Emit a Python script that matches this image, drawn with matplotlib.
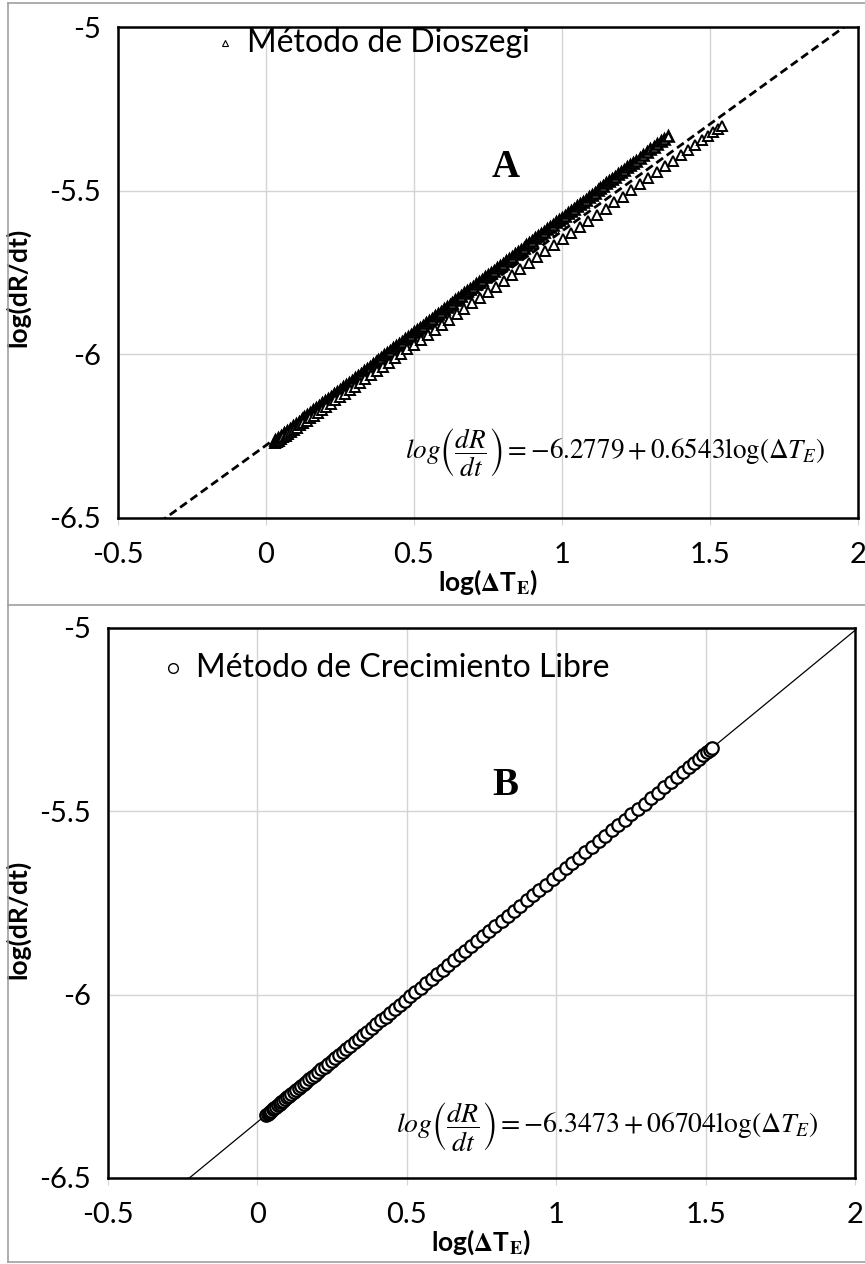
import numpy as np
import matplotlib.pyplot as plt
from matplotlib.lines import Line2D

plt.rcParams['font.family'] = ['Lato', 'DejaVu Sans']
plt.rcParams['mathtext.fontset'] = 'stix'

#------------------------- data -------------------------
# panel A, Dioszegi method: dense run (upper band) and the run that bends below the fit
dio1_x = [0.03, 0.04, 0.05, 0.06, 0.07, 0.08, 0.09, 0.10, 0.11, 0.12,
          0.13, 0.14, 0.15, 0.16, 0.17, 0.18, 0.19, 0.20, 0.21, 0.22,
          0.23, 0.24, 0.25, 0.26, 0.27, 0.28, 0.29, 0.30, 0.31, 0.32,
          0.33, 0.34, 0.35, 0.36, 0.37, 0.38, 0.39, 0.40, 0.41, 0.42,
          0.43, 0.44, 0.45, 0.46, 0.47, 0.48, 0.49, 0.50, 0.51, 0.52,
          0.53, 0.54, 0.55, 0.56, 0.57, 0.58, 0.59, 0.60, 0.61, 0.62,
          0.63, 0.64, 0.65, 0.66, 0.67, 0.68, 0.69, 0.70, 0.71, 0.72,
          0.73, 0.74, 0.75, 0.76, 0.77, 0.78, 0.79, 0.80, 0.81, 0.82,
          0.83, 0.84, 0.85, 0.86, 0.87, 0.88, 0.89, 0.90, 0.91, 0.92,
          0.93, 0.94, 0.95, 0.96, 0.97, 0.98, 0.99, 1.00, 1.01, 1.02,
          1.03, 1.04, 1.05, 1.06, 1.07, 1.08, 1.09, 1.10, 1.11, 1.12,
          1.13, 1.14, 1.15, 1.16, 1.17, 1.18, 1.19, 1.20, 1.21, 1.22,
          1.23, 1.24, 1.25, 1.262, 1.274, 1.286, 1.298, 1.310, 1.322, 1.334, 1.346, 1.358]
dio1_y = [-6.262, -6.255, -6.248, -6.241, -6.234, -6.227, -6.220, -6.213, -6.206, -6.199,
          -6.192, -6.185, -6.178, -6.171, -6.164, -6.157, -6.150, -6.143, -6.136, -6.129,
          -6.122, -6.115, -6.108, -6.101, -6.094, -6.087, -6.080, -6.073, -6.066, -6.059,
          -6.052, -6.045, -6.038, -6.031, -6.024, -6.017, -6.010, -6.003, -5.996, -5.989,
          -5.982, -5.975, -5.968, -5.961, -5.954, -5.947, -5.940, -5.933, -5.926, -5.919,
          -5.912, -5.905, -5.898, -5.891, -5.884, -5.877, -5.870, -5.863, -5.856, -5.849,
          -5.842, -5.835, -5.828, -5.821, -5.814, -5.807, -5.800, -5.793, -5.786, -5.779,
          -5.772, -5.765, -5.758, -5.751, -5.744, -5.737, -5.730, -5.723, -5.716, -5.709,
          -5.702, -5.695, -5.688, -5.681, -5.674, -5.667, -5.660, -5.653, -5.646, -5.639,
          -5.632, -5.625, -5.618, -5.611, -5.604, -5.597, -5.590, -5.583, -5.576, -5.569,
          -5.562, -5.555, -5.548, -5.541, -5.534, -5.527, -5.520, -5.513, -5.506, -5.499,
          -5.492, -5.485, -5.478, -5.471, -5.464, -5.457, -5.450, -5.443, -5.436, -5.429,
          -5.422, -5.415, -5.408, -5.400, -5.391, -5.383, -5.374, -5.366, -5.358, -5.349, -5.341, -5.332]

dio2_x = [0.030, 0.036, 0.043, 0.050, 0.058, 0.066, 0.075, 0.084, 0.094, 0.104, 0.115, 0.126, 0.138,
          0.150, 0.163, 0.176, 0.190, 0.204, 0.219, 0.234, 0.250, 0.266, 0.283, 0.300, 0.318, 0.336,
          0.355, 0.374, 0.394, 0.414, 0.435, 0.456, 0.478, 0.500, 0.523, 0.546, 0.570, 0.594, 0.619,
          0.644, 0.670, 0.696, 0.722, 0.749, 0.776, 0.803, 0.831, 0.859, 0.887, 0.915, 0.944, 0.973,
          1.002, 1.031, 1.060, 1.089, 1.118, 1.147, 1.176, 1.205, 1.234, 1.263, 1.292, 1.320, 1.348,
          1.375, 1.401, 1.426, 1.450, 1.472, 1.492, 1.510, 1.526, 1.540]
dio2_y = [-6.272, -6.268, -6.264, -6.259, -6.254, -6.249, -6.243, -6.237, -6.231, -6.224, -6.217, -6.210, -6.203,
          -6.195, -6.187, -6.178, -6.169, -6.160, -6.151, -6.141, -6.131, -6.120, -6.110, -6.099, -6.087, -6.076,
          -6.063, -6.051, -6.038, -6.025, -6.012, -5.998, -5.984, -5.970, -5.955, -5.941, -5.925, -5.910, -5.894,
          -5.878, -5.861, -5.844, -5.828, -5.810, -5.793, -5.776, -5.758, -5.740, -5.722, -5.704, -5.685, -5.667,
          -5.648, -5.629, -5.611, -5.592, -5.574, -5.555, -5.536, -5.518, -5.499, -5.480, -5.462, -5.444, -5.426,
          -5.409, -5.392, -5.376, -5.360, -5.346, -5.333, -5.322, -5.311, -5.303]

# panel B, free growth method (circles)
cre_x = [0.030, 0.034, 0.038, 0.042, 0.047, 0.052, 0.057, 0.062, 0.068, 0.074, 0.080, 0.086, 0.093, 0.100,
         0.107, 0.114, 0.122, 0.130, 0.138, 0.146, 0.155, 0.164, 0.173, 0.183, 0.193, 0.203, 0.214, 0.225,
         0.236, 0.248, 0.260, 0.272, 0.285, 0.298, 0.311, 0.325, 0.339, 0.353, 0.368, 0.383, 0.398, 0.413,
         0.429, 0.445, 0.461, 0.478, 0.495, 0.512, 0.529, 0.547, 0.565, 0.583, 0.601, 0.620, 0.639, 0.658,
         0.677, 0.696, 0.716, 0.736, 0.756, 0.776, 0.796, 0.817, 0.838, 0.859, 0.880, 0.901, 0.922, 0.944,
         0.966, 0.988, 1.010, 1.032, 1.054, 1.076, 1.098, 1.120, 1.142, 1.164, 1.186, 1.208, 1.230, 1.252,
         1.274, 1.296, 1.318, 1.340, 1.362, 1.384, 1.405, 1.425, 1.444, 1.462, 1.478, 1.492, 1.504, 1.514, 1.522]
cre_y = [-6.327, -6.325, -6.322, -6.319, -6.316, -6.312, -6.309, -6.306, -6.302, -6.298, -6.294, -6.290, -6.285, -6.280,
         -6.276, -6.271, -6.266, -6.260, -6.255, -6.249, -6.243, -6.237, -6.231, -6.225, -6.218, -6.211, -6.204, -6.197,
         -6.189, -6.181, -6.173, -6.165, -6.156, -6.148, -6.139, -6.129, -6.120, -6.111, -6.101, -6.091, -6.081, -6.070,
         -6.060, -6.049, -6.038, -6.027, -6.016, -6.004, -5.993, -5.981, -5.969, -5.957, -5.944, -5.932, -5.919, -5.906,
         -5.893, -5.881, -5.867, -5.854, -5.841, -5.827, -5.814, -5.800, -5.786, -5.771, -5.757, -5.743, -5.729, -5.714,
         -5.700, -5.685, -5.670, -5.655, -5.641, -5.626, -5.611, -5.597, -5.582, -5.567, -5.552, -5.538, -5.523, -5.508,
         -5.493, -5.479, -5.464, -5.449, -5.434, -5.420, -5.405, -5.392, -5.379, -5.367, -5.356, -5.347, -5.339, -5.332, -5.327]

# fitted lines: intercept, slope
fit_A = (-6.2779, 0.6543)
fit_B = (-6.3473, 0.6704)

xticks = [-0.5, 0, 0.5, 1, 1.5, 2]
xticklabels = ['-0.5', '0', '0.5', '1', '1.5', '2']
yticks = [-6.5, -6, -5.5, -5]
yticklabels = ['-6.5', '-6', '-5.5', '-5']

#------------------------- figure -------------------------
W, H = 865, 1264
fig = plt.figure(figsize=(W / 100, H / 100), dpi=100)

def box(l, t, r, b):
    return [l / W, 1 - b / H, (r - l) / W, (b - t) / H]

axA = fig.add_axes(box(118, 27, 858, 518))
axB = fig.add_axes(box(108, 628, 855, 1178))

def style(ax, ylab_x):
    ax.set_xlim(-0.5, 2)
    ax.set_ylim(-6.5, -5)
    ax.set_xticks(xticks)
    ax.set_xticklabels(xticklabels)
    ax.set_yticks(yticks)
    ax.set_yticklabels(yticklabels)
    ax.grid(True, color='#d4d4d4', lw=1.0)
    ax.set_axisbelow(True)
    for s in ax.spines.values():
        s.set_linewidth(1.8)
        s.set_color('black')
    ax.tick_params(axis='x', length=5, color='#d4d4d4', pad=12, labelsize=21)
    ax.tick_params(axis='y', length=0, pad=12, labelsize=21)
    ax.set_xlabel(r'log($\mathbf{\Delta}$T$_\mathbf{E}$)', fontsize=19, fontweight='bold', labelpad=0)
    ax.set_ylabel('log(dR/dt)', fontsize=19, fontweight='bold')
    ax.yaxis.set_label_coords(ylab_x, 0.47)

style(axA, (30 - 118) / 740)
style(axB, (30 - 108) / 747)

xl = np.array([-0.5, 2.0])

# panel A
axA.plot(xl, fit_A[0] + fit_A[1] * xl, ls='--', color='black', lw=2.0, dashes=(3, 1.6), zorder=2)
axA.plot(dio1_x, dio1_y, ls='none', marker='^', ms=7.5, mfc='white', mec='black', mew=1.9, zorder=3)
axA.plot(dio2_x, dio2_y, ls='none', marker='^', ms=7, mfc='white', mec='black', mew=1.4, zorder=3)
axA.plot([-0.139], [-5.05], ls='none', marker='^', ms=5, mfc='white', mec='black', mew=0.8)
axA.text(-0.064, -5.05, 'Método de Dioszegi', fontsize=23, va='center', ha='left')
axA.text(0.81, -5.43, 'A', fontsize=28, fontweight='bold', family='Liberation Serif', ha='center', va='center')
axA.text(1.18, -6.30, r'$log\left(\dfrac{dR}{dt}\right) = -6.2779 + 0.6543\mathrm{log}(\Delta T_E)$',
         fontsize=19.5, ha='center', va='center')

# panel B
axB.plot(xl, fit_B[0] + fit_B[1] * xl, ls='-', color='black', lw=0.9, zorder=2)
axB.plot(cre_x, cre_y, ls='none', marker='o', ms=9, mfc='white', mec='black', mew=1.6, zorder=3)
axB.plot([-0.283], [-5.11], ls='none', marker='o', ms=7, mfc='white', mec='black', mew=1.0)
axB.text(-0.207, -5.11, 'Método de Crecimiento Libre', fontsize=23, va='center', ha='left')
axB.text(0.83, -5.43, 'B', fontsize=28, fontweight='bold', family='Liberation Serif', ha='center', va='center')
axB.text(1.17, -6.36, r'$log\left(\dfrac{dR}{dt}\right) = -6.3473 + 06704\mathrm{log}(\Delta T_E)$',
         fontsize=20, ha='center', va='center')

# outer frame lines
for (x0, y0, x1, y1) in [(8, 3, 865, 3), (8, 605, 865, 605), (8, 3, 8, 1262), (8, 1262, 865, 1262)]:
    fig.add_artist(Line2D([x0 / W, x1 / W], [1 - y0 / H, 1 - y1 / H], color='#a0a0a0', lw=1.2))

fig.savefig('out.png', dpi=100, facecolor='white')
